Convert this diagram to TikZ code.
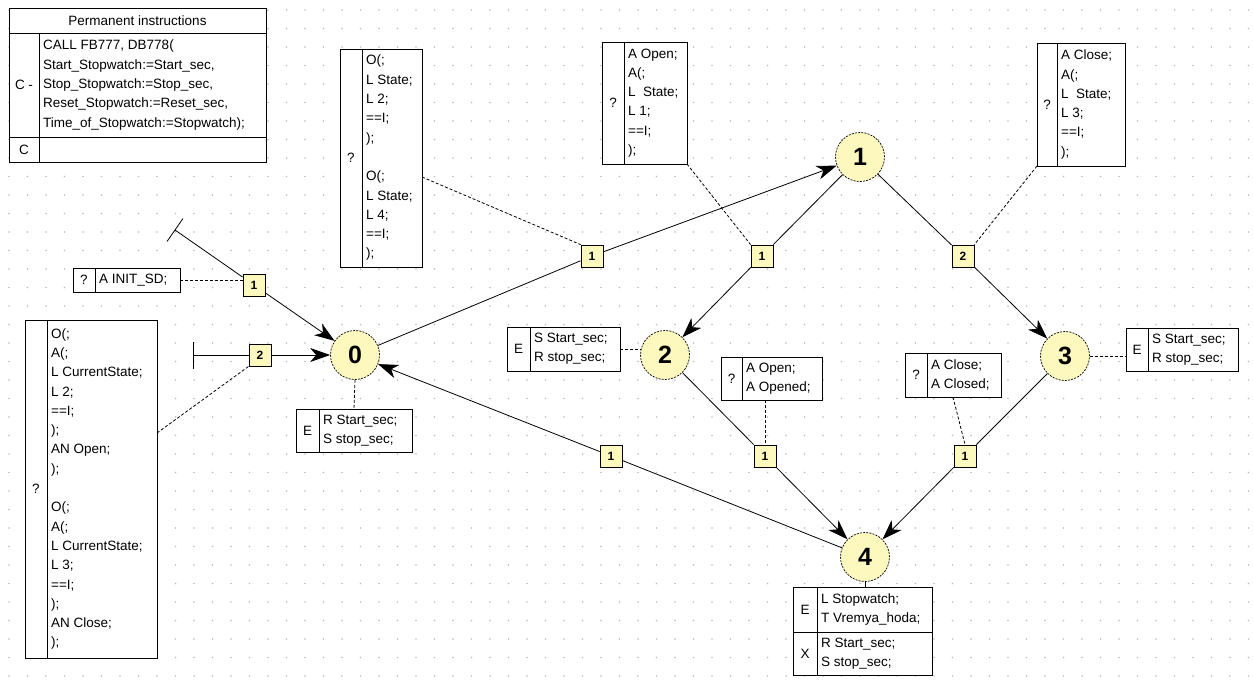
\documentclass[tikz,border=0pt]{standalone}
\usepackage{fontspec}
\setmainfont{Liberation Sans}
\usetikzlibrary{arrows.meta}
\definecolor{stfill}{RGB}{252,248,190}
\definecolor{gridc}{RGB}{190,190,190}
\tikzset{
 txt/.style={font=\fontsize{13.5}{19.3}\selectfont, inner sep=0pt, align=left},
 boxst/.style={draw, fill=white, line width=0.8pt, inner sep=0pt, outer sep=0pt},
 state/.style={circle, draw, fill=stfill, dash pattern=on 2pt off 1.2pt, line width=0.7pt, minimum size=49pt, inner sep=0pt, font=\fontsize{25}{25}\selectfont\bfseries},
 trans/.style={draw, fill=stfill, minimum size=22pt, inner sep=0pt, line width=0.8pt, font=\fontsize{12}{12}\selectfont\bfseries},
 arr/.style={line width=0.8pt, -{Stealth[length=20pt,width=14pt,inset=6pt]}},
 link/.style={line width=0.8pt},
 note/.style={line width=0.8pt, dash pattern=on 3pt off 2pt},
}
% name, x1, y1, x2, y2, xdiv, label, text
\newcommand{\cbox}[8]{%
 \node[boxst, anchor=north west, minimum width={#4-#2}, minimum height={#5-#3}] (#1) at (#2,#3) {};
 \draw[line width=0.8pt] (#6,#3) -- (#6,#5);
 \node[txt] at ({(#2+#6)/2},{(#3+#5)/2}) {#7};
 \node[txt, anchor=west] at ({#6+4},{(#3+#5)/2}) {#8};
}
\begin{document}
\begin{tikzpicture}[x=1pt,y=-1pt]
\fill[white] (0,0) rectangle (1253,686);
\useasboundingbox (0,0) rectangle (1253,686);
\foreach \i in {0,...,67}{\foreach \j in {0,...,36}{\fill[gridc] ({9+18.5*\i},{10+18.5*\j}) circle (0.9);}}

% permanent instructions
\node[boxst, anchor=north west, minimum width=257, minimum height=154] (perm) at (9,8) {};
\draw[line width=0.8pt] (9,33) -- (266,33) (9,137) -- (266,137) (39,33) -- (39,162);
\node[txt] at (137.5,20.5) {Permanent instructions};
\node[txt] at (24,85) {C -};
\node[txt] at (24,149.5) {C};
\node[txt, anchor=west] at (43,85) {CALL FB777, DB778(\\Start\_Stopwatch:=Start\_sec,\\Stop\_Stopwatch:=Stop\_sec,\\Reset\_Stopwatch:=Reset\_sec,\\Time\_of\_Stopwatch:=Stopwatch);};

% condition / action boxes
\cbox{cm}{340}{49}{422}{267}{362}{?}{O(;\\L State;\\L 2;\\==I;\\);\\~\\O(;\\L State;\\L 4;\\==I;\\);}
\cbox{co}{602}{42}{687}{164}{624}{?}{A Open;\\A(;\\L\ \ State;\\L 1;\\==I;\\);}
\cbox{cc}{1037}{43}{1125}{166}{1057}{?}{A Close;\\A(;\\L\ \ State;\\L 3;\\==I;\\);}
\cbox{init}{73}{268}{180}{292}{95}{?}{A INIT\_SD;}
\cbox{cl}{25}{320}{157}{658}{47}{?}{O(;\\A(;\\L CurrentState;\\L 2;\\==I;\\);\\AN Open;\\);\\~\\O(;\\A(;\\L CurrentState;\\L 3;\\==I;\\);\\AN Close;\\);}
\cbox{e0}{296}{409}{412}{452}{319}{E}{R Start\_sec;\\S stop\_sec;}
\cbox{e2b}{507}{327}{620}{371}{530}{E}{S Start\_sec;\\R stop\_sec;}
\cbox{ob}{721}{357}{822}{400}{742}{?}{A Open;\\A Opened;}
\cbox{cb}{905}{353}{1001}{397}{927}{?}{A Close;\\A Closed;}
\cbox{e3b}{1126}{328}{1238}{371}{1148}{E}{S Start\_sec;\\R stop\_sec;}

% state 4 box
\node[boxst, anchor=north west, minimum width=139, minimum height=88] (e4) at (793,587) {};
\draw[line width=0.8pt] (793,632) -- (932,632) (817,587) -- (817,675);
\node[txt] at (805,609.5) {E};
\node[txt] at (805,653.5) {X};
\node[txt, anchor=west] at (821,609.5) {L Stopwatch;\\T Vremya\_hoda;};
\node[txt, anchor=west] at (821,653.5) {R Start\_sec;\\S stop\_sec;};

% states
\node[state] (c0) at (355,355) {0};
\node[state] (c1) at (860,157) {1};
\node[state] (c2) at (665,355) {2};
\node[state] (c3) at (1065,356) {3};
\node[state] (c4) at (865,557) {4};

% transitions
\node[trans] (t1a) at (254,285) {1};
\node[trans] (t2a) at (260,355) {2};
\node[trans] (t01) at (592,256) {1};
\node[trans] (t12) at (762,256) {1};
\node[trans] (t13) at (963,256) {2};
\node[trans] (t24) at (765,456) {1};
\node[trans] (t34) at (965,456) {1};
\node[trans] (t40) at (611,456) {1};

% entry lines
\coordinate (e1) at (175,230);
\coordinate (e1a) at (167,241.5);
\coordinate (e1b) at (183,218.5);
\draw[link] (e1a) -- (e1b);
\draw[link] (e1) -- (t1a);
\draw[arr] (t1a) -- (c0);
\coordinate (e2) at (193,355);
\coordinate (e2a) at (193,342);
\coordinate (e2c) at (193,369);
\draw[link] (e2a) -- (e2c);
\draw[link] (e2) -- (t2a);
\draw[arr] (t2a) -- (c0);

% transitions between states
\draw[link] (c0) -- (t01); \draw[arr] (t01) -- (c1);
\draw[link] (c1) -- (t12); \draw[arr] (t12) -- (c2);
\draw[link] (c1) -- (t13); \draw[arr] (t13) -- (c3);
\draw[link] (c2) -- (t24); \draw[arr] (t24) -- (c4);
\draw[link] (c3) -- (t34); \draw[arr] (t34) -- (c4);
\draw[link] (c4) -- (t40); \draw[arr] (t40) -- (c0);

% dashed annotations
\draw[note] (init.east) -- (init.east -| t1a.west);
\draw[note] (cl.east |- 0,433) -- (t2a.south west);
\draw[note] (cm.east |- 0,177) -- (t01.north west);
\draw[note] (co.south east) -- (t12.north west);
\draw[note] (cc.south west) -- (t13.north east);
\draw[note] (c0.south) -- (e0.north);
\draw[note] (e2b.east) -- (e2b.east -| c2.west);
\draw[note] (ob.south -| t24.north) -- (t24.north);
\draw[note] (cb.south) -- (t34.north);
\draw[note] (c3.east) -- (c3.east -| e3b.west);
\draw[link] (c4.south) -- (c4.south |- e4.north);
\end{tikzpicture}
\end{document}
